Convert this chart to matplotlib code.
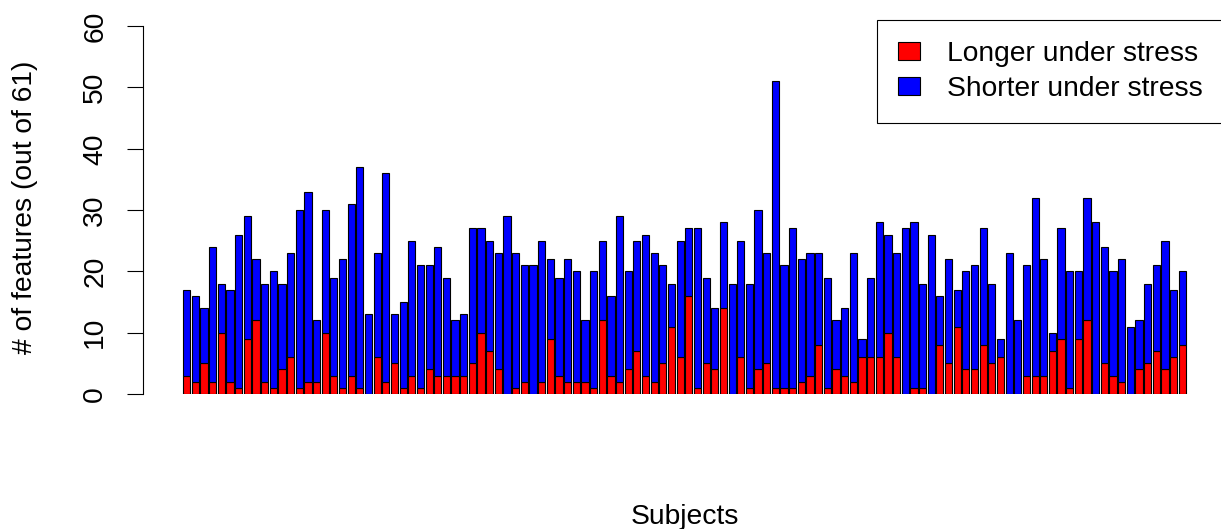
import numpy as np
import matplotlib
matplotlib.use('Agg')
import matplotlib.pyplot as plt

plt.rcParams['font.family'] = ['Liberation Sans', 'DejaVu Sans']

# features per subject that got longer / shorter under stress
longer = [3, 2, 5, 2, 10, 2, 1, 9, 12, 2,
          1, 4, 6, 1, 2, 2, 10, 3, 1, 3,
          1, 0, 6, 2, 5, 1, 3, 1, 4, 3,
          3, 3, 3, 5, 10, 7, 4, 0, 1, 2,
          0, 2, 9, 3, 2, 2, 2, 1, 12, 3,
          2, 4, 7, 3, 2, 5, 11, 6, 16, 1,
          5, 4, 14, 0, 6, 1, 4, 5, 1, 1,
          1, 2, 3, 8, 1, 4, 3, 2, 6, 6,
          6, 10, 6, 0, 1, 1, 0, 8, 5, 11,
          4, 4, 8, 5, 6, 0, 0, 3, 3, 3,
          7, 9, 1, 9, 12, 0, 5, 3, 2, 0,
          4, 5, 7, 4, 6, 8]
shorter = [14, 14, 9, 22, 8, 15, 25, 20, 10, 16,
           19, 14, 17, 29, 31, 10, 20, 16, 21, 28,
           36, 13, 17, 34, 8, 14, 22, 20, 17, 21,
           16, 9, 10, 22, 17, 18, 19, 29, 22, 19,
           21, 23, 13, 16, 20, 18, 10, 19, 13, 13,
           27, 16, 18, 23, 21, 16, 7, 19, 11, 26,
           14, 10, 14, 18, 19, 17, 26, 18, 50, 20,
           26, 20, 20, 15, 18, 8, 11, 21, 3, 13,
           22, 16, 17, 27, 27, 17, 26, 8, 17, 6,
           16, 17, 19, 13, 3, 23, 12, 18, 29, 19,
           3, 18, 19, 11, 20, 28, 19, 17, 20, 11,
           8, 13, 14, 21, 11, 12]
legend_labels = ['Longer under stress', 'Shorter under stress']
yticks = [0, 10, 20, 30, 40, 50, 60]

longer = np.array(longer)
shorter = np.array(shorter)
n = len(longer)
# barplot layout: width 1, space 0.2
x = 0.7 + 1.2 * np.arange(n)

fs = 20.3
fig = plt.figure(figsize=(12.21, 5.29), dpi=100)
ax = fig.add_axes([143 / 1221, 1 - 394 / 529, 1083 / 1221, 374 / 529])

ax.bar(x, longer, width=1, color='#ff0000', edgecolor='black', linewidth=0.8,
       label=legend_labels[0])
ax.bar(x, shorter, width=1, bottom=longer, color='#0000ff', edgecolor='black',
       linewidth=0.8, label=legend_labels[1])

lo, hi = 0.2, x[-1] + 0.5
ext = 0.04 * (hi - lo)
ax.set_xlim(lo - ext, hi + ext)
ax.set_ylim(0, 61)

for s in ['top', 'right', 'bottom']:
    ax.spines[s].set_visible(False)
ax.spines['left'].set_bounds(0, 60)
ax.spines['left'].set_linewidth(0.8)
ax.set_xticks([])
ax.set_yticks(yticks)
ax.tick_params(axis='y', length=11.5, width=0.8, pad=13.5, labelsize=fs,
               labelrotation=90)
for lab in ax.get_yticklabels():
    lab.set_va('center')

fig.text(25 / 1221, 1 - 207 / 529, '# of features (out of 61)', rotation=90,
         ha='center', va='center', fontsize=fs)
fig.text(684.5 / 1221, 1 - 523.5 / 529, 'Subjects', ha='center',
         va='baseline', fontsize=fs)

leg = ax.legend(loc='upper right', bbox_to_anchor=(0.9982, 1), borderaxespad=0,
                fontsize=fs, fancybox=False, framealpha=1, edgecolor='black',
                handlelength=0.76, handleheight=0.62, handletextpad=0.98,
                borderpad=0.75, labelspacing=0.32)
leg.get_frame().set_linewidth(0.8)

fig.savefig('out.png', dpi=100)
